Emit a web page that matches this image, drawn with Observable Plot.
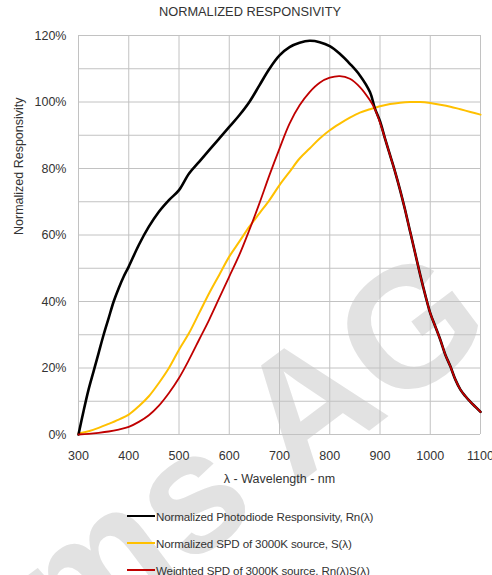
<!DOCTYPE html>
<html><head><meta charset="utf-8">
<script src="https://cdn.jsdelivr.net/npm/d3@7"></script>
<script src="https://cdn.jsdelivr.net/npm/@observablehq/plot@0.6"></script>
<style>
body{margin:0;background:#fff;}
#wrap{position:relative;width:492px;height:575px;overflow:hidden;font-family:"Liberation Sans",Arial,sans-serif;}
#wm{position:absolute;left:208px;top:478px;transform:translate(-50%,-50%) rotate(-37deg);font:bold 170px/1 "Liberation Sans",Arial,sans-serif;color:#e2e2e2;white-space:nowrap;z-index:0;}
#title{position:absolute;left:0;width:500px;top:4px;line-height:15px;text-align:center;font-size:12.8px;color:#333;z-index:1;}
#chart{position:absolute;left:0;top:24px;z-index:1;}
.leg{position:absolute;left:127px;height:16px;display:flex;align-items:center;z-index:1;font-family:"Liberation Sans Narrow","Arial Narrow","Liberation Sans",sans-serif;font-size:11.6px;letter-spacing:-0.15px;color:#333;white-space:nowrap;}
.leg .sw{width:28px;height:2.5px;margin-right:1px;}
</style>
</head><body>
<div id="wrap">
  <div id="wm">ams AG</div>
  <div id="title"></div>
  <div id="chart"></div>
</div>
<script>
const title = "NORMALIZED RESPONSIVITY";
const xLabel = "λ - Wavelength - nm";
const yLabel = "Normalized Responsivity";
const xTicks = [300, 400, 500, 600, 700, 800, 900, 1000, 1100];
const yTicks = [0, 20, 40, 60, 80, 100, 120];
const yGrid = [0, 10, 20, 30, 40, 50, 60, 70, 80, 90, 100, 110, 120];
const seriesNames = [
  "Normalized Photodiode Responsivity, Rn(λ)",
  "Normalized SPD of 3000K source, S(λ)",
  "Weighted SPD of 3000K source, Rn(λ)S(λ)"
];

// Rn(λ) photodiode responsivity (%)
const lambdaRn = [300,310,320,330,340,350,360,370,380,390,400,420,440,460,480,500,520,540,560,580,600,620,640,660,680,700,720,740,760,780,800,820,840,860,880,890,900,910,920,930,940,950,960,970,980,990,1000,1010,1020,1030,1040,1050,1060,1070,1080,1090,1100];
const rn = [0,7,13.5,19,24.5,30,35,40,44,47.5,50.5,57,62.5,67,70.5,73.5,78.5,82,85.5,89,92.5,96,100,105,110,114,116.5,117.8,118.4,118,116.8,114.5,111.5,108,103,98,94.2,89,84,79,73.5,67.5,61,54.5,48,42,36.5,32.5,28.5,24,20.5,16.5,13.5,11.5,9.8,8.3,6.8];

// S(λ) normalized SPD of 3000K source (%)
const lambdaS = [300,320,340,360,380,400,420,440,460,480,500,520,540,560,580,600,620,640,660,680,700,720,740,760,780,800,820,840,860,880,900,920,940,960,980,1000,1020,1040,1060,1080,1100];
const s = [0.3,1,2,3.2,4.5,6,8.5,11.5,15.5,20,25.5,30.5,36.5,42.5,48,53.5,58,62.5,66.5,70.5,75,79,83,86,89,91.5,93.5,95.3,96.8,97.8,98.7,99.4,99.8,100,100,99.7,99.2,98.6,97.8,97,96.2];

// Rn(λ)S(λ) weighted SPD (%)
const lambdaRS = [300,320,340,360,380,400,420,440,460,480,500,520,540,560,580,600,620,640,660,680,700,720,740,760,780,800,820,840,860,880,890,900,910,920,930,940,950,960,970,980,990,1000,1010,1020,1030,1040,1050,1060,1070,1080,1090,1100];
const rs = [0,0.2,0.5,0.9,1.5,2.3,3.8,5.8,8.7,12.5,17,22.5,28.5,34.5,41,47.5,54,61.5,69.5,78,86,93.5,99,103,105.8,107.3,107.8,107,104.5,100.5,97.8,93.8,89,84,79,73.5,67.5,61,54.5,48,42,36.5,32.5,28.5,24,20.5,16.5,13.5,11.5,9.8,8.3,6.8];

const colors = ["#000000", "#FFC000", "#C00000"];
const widths = [2.6, 2, 1.8];

const toRows = (xs, ys) => xs.map((x, i) => ({x, y: ys[i]}));
const dataRn = toRows(lambdaRn, rn);
const dataS = toRows(lambdaS, s);
const dataRS = toRows(lambdaRS, rs);

document.getElementById("title").textContent = title;

const plot = Plot.plot({
  width: 492,
  height: 476,
  marginLeft: 78,
  marginRight: 12,
  marginTop: 11,
  marginBottom: 66,
  style: {background: "transparent", color: "#333", fontFamily: "'Liberation Sans', Arial, sans-serif", fontSize: "12.5px", overflow: "visible"},
  x: {domain: [300, 1100]},
  y: {domain: [0, 120]},
  marks: [
    Plot.ruleY(yGrid, {stroke: "#c2c2c2", strokeWidth: 1}),
    Plot.ruleX(xTicks, {stroke: "#c2c2c2", strokeWidth: 1}),
    Plot.axisX(xTicks, {tickSize: 0, tickPadding: 17, label: null, tickFormat: d => String(d), fontSize: 12.5}),
    Plot.axisY(yTicks, {tickSize: 0, tickPadding: 12, label: null, tickFormat: d => d + "%", fontSize: 12.5}),
    Plot.text([xLabel], {frameAnchor: "bottom", dy: 48, fontSize: 12.5, fill: "#333"}),
    Plot.text([yLabel], {frameAnchor: "left", dx: -60, rotate: -90, fontSize: 12.5, fill: "#333"}),
    Plot.line(dataS, {x: "x", y: "y", stroke: colors[1], strokeWidth: widths[1], curve: "catmull-rom"}),
    Plot.line(dataRn, {x: "x", y: "y", stroke: colors[0], strokeWidth: widths[0], curve: "catmull-rom"}),
    Plot.line(dataRS, {x: "x", y: "y", stroke: colors[2], strokeWidth: widths[2], curve: "catmull-rom"})
  ]
});
document.getElementById("chart").appendChild(plot);

const wrap = document.getElementById("wrap");
const legTops = [508, 535, 562];
seriesNames.forEach((name, i) => {
  const row = document.createElement("div");
  row.className = "leg";
  row.style.top = legTops[i] + "px";
  const sw = document.createElement("span");
  sw.className = "sw";
  sw.style.background = colors[i];
  const t = document.createElement("span");
  t.textContent = name;
  row.appendChild(sw);
  row.appendChild(t);
  wrap.appendChild(row);
});
</script>
</body></html>
